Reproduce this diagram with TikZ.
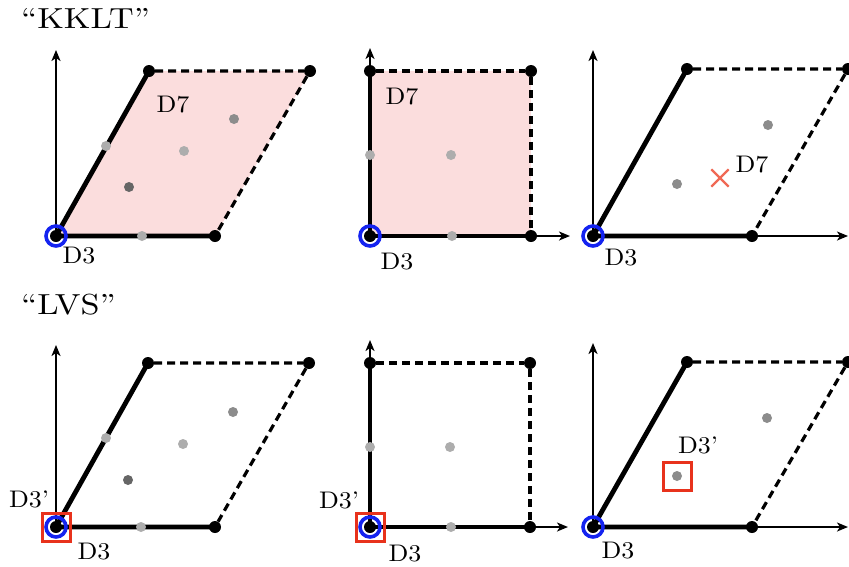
\documentclass[tikz,border=0pt]{standalone}
\usepackage{fontspec}
\setmainfont{lmroman10-regular}[Extension=.otf, FakeStretch=1.18]
\newfontfamily\lblfont{lmroman10-regular}[Extension=.otf, Ligatures=TeX, FakeStretch=1.08]
\usetikzlibrary{arrows.meta, positioning, shapes.misc, backgrounds}
\definecolor{d7pink}{RGB}{251,221,221}
\definecolor{d3blue}{RGB}{20,35,240}
\definecolor{d3red}{RGB}{232,50,28}
\definecolor{xred}{RGB}{240,105,85}
\tikzset{
  vtx/.style    = {circle, fill=black, inner sep=0pt, minimum size=12pt},
  fp/.style     = {circle, fill=black!32, inner sep=0pt, minimum size=10pt},
  fpmid/.style  = {fp, fill=black!45},
  fpdark/.style = {fp, fill=black!60},
  side/.style   = {line width=4.8pt},
  bnd/.style    = {line width=3.2pt, dash pattern=on 8pt off 5pt},
  axis/.style   = {line width=1.9pt, -{Stealth[length=11pt, width=9pt, inset=3pt]}},
  ring/.style   = {circle, draw=d3blue, line width=3.6pt, minimum size=20pt, inner sep=0pt},
  sbox/.style   = {rectangle, draw=d3red, line width=3pt, minimum size=28pt, inner sep=0pt},
  xmark/.style  = {cross out, draw=xred, line width=2.3pt, minimum size=15pt, inner sep=0pt},
  lbl/.style    = {font=\lblfont\fontsize{24}{26}\selectfont, inner sep=0pt},
  ttl/.style    = {font=\fontsize{29}{32}\selectfont, inner sep=0pt, anchor=west},
}
\begin{document}
\begin{tikzpicture}[x=1pt, y=-1pt]
  \useasboundingbox (0,0) rectangle (849,566);
  \node[ttl] (kklt) at (21,18) {``KKLT''};
  \node[ttl] (lvs) at (21,305) {``LVS''};

  % --- top row: KKLT ---
  % panel 1, oblique cell with D7
  \node[vtx] (o1) at (56,236) {};
  \node[vtx] (a1) at (215,236) {};
  \node[vtx] (b1) at (149,71) {};
  \node[vtx] (c1) at (310,71) {};
  \coordinate (y1) at (56,50);
  \begin{scope}[on background layer]
    \fill[d7pink] (o1.center) -- (a1.center) -- (c1.center) -- (b1.center) -- cycle;
    \draw[axis] (o1.center) -- (y1);
    \draw[side] (b1.center) -- (o1.center) -- (a1.center);
    \draw[bnd] (b1) -- (c1) -- (a1);
  \end{scope}
  \foreach \x/\y/\s [count=\i] in {106/146/fp, 184/151/fp, 234/119/fpmid,
                                   129/187/fpdark, 142/236/fp}
    \node[\s] (f1\i) at (\x,\y) {};
  \node[ring] (r1) at (o1) {};
  \node[lbl] (d7a) at (173,105) {D7};
  \node[lbl] (d3a) at (79,256) {D3};

  % panel 2, square cell with D7
  \node[vtx] (o2) at (370,236) {};
  \node[vtx] (a2) at (531,236) {};
  \node[vtx] (b2) at (370,71) {};
  \node[vtx] (c2) at (531,71) {};
  \coordinate (x2) at (570,236);
  \coordinate (y2) at (370,48);
  \begin{scope}[on background layer]
    \fill[d7pink] (o2.center) -- (a2.center) -- (c2.center) -- (b2.center) -- cycle;
    \draw[axis] (o2.center) -- (y2);
    \draw[axis] (o2.center) -- (x2);
    \draw[side] (b2.center) -- (o2.center) -- (a2.center);
    \draw[bnd] (b2) -- (c2) -- (a2);
  \end{scope}
  \foreach \x/\y [count=\i] in {370/155, 451/155, 452/236}
    \node[fp] (f2\i) at (\x,\y) {};
  \node[ring] (r2) at (o2) {};
  \node[lbl] (d7b) at (402,97) {D7};
  \node[lbl] (d3b) at (397,262) {D3};

  % panel 3, D7 moved into the bulk
  \node[vtx] (o3) at (593,236) {};
  \node[vtx] (a3) at (752,236) {};
  \node[vtx] (b3) at (687,69) {};
  \node[vtx] (c3) at (848,69) {};
  \coordinate (x3) at (848,236);
  \coordinate (y3) at (593,50);
  \begin{scope}[on background layer]
    \draw[axis] (o3.center) -- (y3);
    \draw[axis] (o3.center) -- (x3);
    \draw[side] (b3.center) -- (o3.center) -- (a3.center);
    \draw[bnd] (b3) -- (c3) -- (a3);
  \end{scope}
  \foreach \x/\y [count=\i] in {677/184, 768/125}
    \node[fpmid] (f3\i) at (\x,\y) {};
  \node[ring] (r3) at (o3) {};
  \node[xmark] (cr3) at (720,178) {};
  \node[lbl] (d7c) at (752,165) {D7};
  \node[lbl] (d3c) at (621,258) {D3};

  % --- bottom row: LVS ---
  % panel 4
  \node[vtx] (o4) at (56,527) {};
  \node[vtx] (a4) at (215,527) {};
  \node[vtx] (b4) at (148,363) {};
  \node[vtx] (c4) at (309,363) {};
  \coordinate (y4) at (56,345);
  \begin{scope}[on background layer]
    \draw[axis] (o4.center) -- (y4);
    \draw[side] (b4.center) -- (o4.center) -- (a4.center);
    \draw[bnd] (b4) -- (c4) -- (a4);
  \end{scope}
  \foreach \x/\y/\s [count=\i] in {106/438/fp, 183/444/fp, 233/412/fpmid,
                                   128/480/fpdark, 141/527/fp}
    \node[\s] (f4\i) at (\x,\y) {};
  \node[ring] (r4) at (o4) {};
  \node[sbox] (s4) at (o4) {};
  \node[lbl] (d3pd) at (29,499) {D3'};
  \node[lbl] (d3d) at (94,552) {D3};

  % panel 5
  \node[vtx] (o5) at (370,527) {};
  \node[vtx] (a5) at (530,527) {};
  \node[vtx] (b5) at (370,363) {};
  \node[vtx] (c5) at (530,363) {};
  \coordinate (x5) at (568,527);
  \coordinate (y5) at (370,340);
  \begin{scope}[on background layer]
    \draw[axis] (o5.center) -- (y5);
    \draw[axis] (o5.center) -- (x5);
    \draw[side] (b5.center) -- (o5.center) -- (a5.center);
    \draw[bnd] (b5) -- (c5) -- (a5);
  \end{scope}
  \foreach \x/\y [count=\i] in {370/447, 450/447, 451/527}
    \node[fp] (f5\i) at (\x,\y) {};
  \node[ring] (r5) at (o5) {};
  \node[sbox] (s5) at (o5) {};
  \node[lbl] (d3pe) at (339,500) {D3'};
  \node[lbl] (d3e) at (405,554) {D3};

  % panel 6, D3' moved into the bulk
  \node[vtx] (o6) at (593,527) {};
  \node[vtx] (a6) at (752,527) {};
  \node[vtx] (b6) at (687,362) {};
  \node[vtx] (c6) at (848,362) {};
  \coordinate (x6) at (848,527);
  \coordinate (y6) at (593,343);
  \begin{scope}[on background layer]
    \draw[axis] (o6.center) -- (y6);
    \draw[axis] (o6.center) -- (x6);
    \draw[side] (b6.center) -- (o6.center) -- (a6.center);
    \draw[bnd] (b6) -- (c6) -- (a6);
  \end{scope}
  \foreach \x/\y [count=\i] in {677/476, 767/418}
    \node[fpmid] (f6\i) at (\x,\y) {};
  \node[ring] (r6) at (o6) {};
  \node[sbox] (s6) at (f61) {};
  \node[lbl] (d3pf) at (698,445) {D3'};
  \node[lbl] (d3f) at (618,551) {D3};
\end{tikzpicture}
\end{document}
